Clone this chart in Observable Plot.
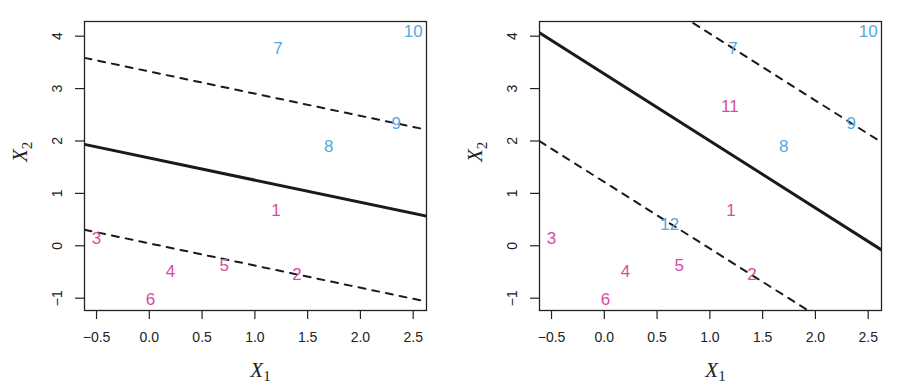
<!DOCTYPE html>
<html><head><meta charset="utf-8">
<script src="https://cdn.jsdelivr.net/npm/d3@7"></script>
<script src="https://cdn.jsdelivr.net/npm/@observablehq/plot@0.6"></script>
<style>
body{margin:0;background:#fff;}
#wrap{display:flex;width:917px;height:389px;}
</style></head><body><div id="wrap"></div>
<script>
// Observations shown in both panels
const pointIds   = ["1","2","3","4","5","6","7","8","9","10"];
const pointX1    = [1.2, 1.4, -0.5, 0.2, 0.71, 0.01, 1.22, 1.7, 2.34, 2.5];
const pointX2    = [0.68, -0.55, 0.13, -0.49, -0.38, -1.03, 3.76, 1.9, 2.33, 4.08];
const pointClass = ["red","red","red","red","red","red","blue","blue","blue","blue"];
// Extra observations added in the right panel
const extraIds   = ["11","12"];
const extraX1    = [1.19, 0.62];
const extraX2    = [2.66, 0.41];
const extraClass = ["red","blue"];
// Hyperplane (solid) and margins (dashed): X2 = intercept + slope * X1
const lineKinds          = ["solid","dashed","dashed"];
const leftLineIntercept  = [1.676, 3.326, 0.046];
const leftLineSlope      = [-0.423, -0.423, -0.423];
const rightLineIntercept = [3.278, 5.323, 1.217];
const rightLineSlope     = [-1.278, -1.275, -1.27];
// Axes
const xTicks = [-0.5, 0, 0.5, 1, 1.5, 2, 2.5];
const yTicks = [-1, 0, 1, 2, 3, 4];
const xDomain = [-0.614, 2.626];
const yDomain = [-1.235, 4.28];
const axisLabels = ["1", "2"]; // subscripts of X for the x and y axis titles

const colors = {red: "#d84ba2", blue: "#56a9e0"};
const ink = "#222";
const serif = "'Liberation Serif', 'DejaVu Serif', serif";

function makePoints(ids, xs, ys, cls) {
  return ids.map((id, i) => ({id, x: xs[i], y: ys[i], cls: cls[i]}));
}
function makeLines(intercepts, slopes) {
  return intercepts.flatMap((a, i) => xDomain.map(x => ({id: i, kind: lineKinds[i], x, y: a + slopes[i] * x})));
}

function panel({width, marginLeft, marginRight, points, lines}) {
  const svg = Plot.plot({
    width, height: 389, marginLeft, marginRight, marginTop: 21, marginBottom: 79,
    x: {domain: xDomain},
    y: {domain: yDomain},
    style: {fontFamily: "'Liberation Sans', Arial, sans-serif", background: "white", color: ink},
    marks: [
      Plot.line(lines.filter(d => d.kind === "solid"), {x: "x", y: "y", z: "id", stroke: "#1a1a1a", strokeWidth: 3, clip: true}),
      Plot.line(lines.filter(d => d.kind === "dashed"), {x: "x", y: "y", z: "id", stroke: "#1a1a1a", strokeWidth: 2, strokeDasharray: "7,7", clip: true}),
      Plot.text(points, {x: "x", y: "y", text: "id", fill: d => colors[d.cls], fontSize: 17}),
      Plot.frame({stroke: ink, strokeWidth: 1.3}),
      Plot.axisX({ticks: xTicks, tickSize: 9, tickPadding: 13, tickFormat: d3.format(".1f"), fontSize: 14, label: null, stroke: ink, strokeWidth: 1.2, fill: ink}),
      Plot.axisY({ticks: yTicks, tickSize: 9, tickFormat: () => "", label: null, stroke: ink, strokeWidth: 1.2}),
      Plot.text(yTicks, {y: d => d, text: d => d3.format("d")(d), frameAnchor: "left", dx: -27, rotate: -90, fontSize: 14, textAnchor: "middle", fill: ink}),
      Plot.text([0], {text: () => "X", frameAnchor: "bottom", dx: 5, dy: 66, fontSize: 21, fontStyle: "italic", fontFamily: serif, fill: ink}),
      Plot.text([0], {text: () => "X", frameAnchor: "left", dx: -64, dy: -4, rotate: -90, fontSize: 21, fontStyle: "italic", fontFamily: serif, fill: ink})
    ]
  });
  d3.select(svg).selectAll("text")
    .filter(function() { return this.textContent === "X"; })
    .each(function(_, i) {
      d3.select(this).append("tspan")
        .attr("font-style", "normal").attr("font-size", 15).attr("dy", "0.3em")
        .text(axisLabels[i]);
    });
  return svg;
}

const wrap = document.getElementById("wrap");
const basePoints = makePoints(pointIds, pointX1, pointX2, pointClass);
wrap.append(panel({
  width: 458, marginLeft: 84, marginRight: 32,
  points: basePoints,
  lines: makeLines(leftLineIntercept, leftLineSlope)
}));
wrap.append(panel({
  width: 459, marginLeft: 81, marginRight: 36,
  points: basePoints.concat(makePoints(extraIds, extraX1, extraX2, extraClass)),
  lines: makeLines(rightLineIntercept, rightLineSlope)
}));
</script></body></html>
